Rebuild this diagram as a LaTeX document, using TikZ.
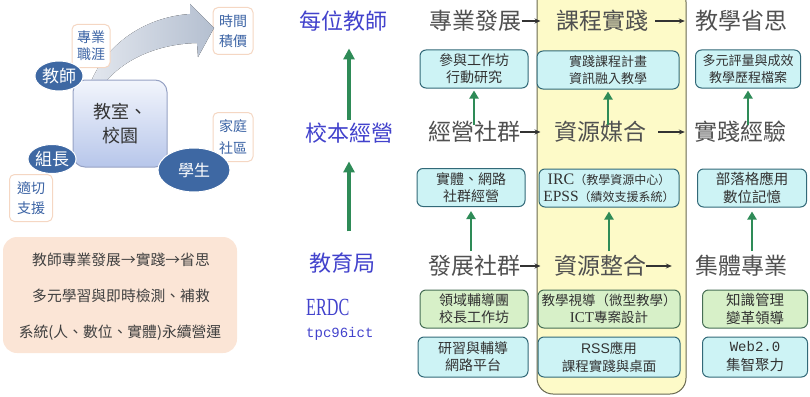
\documentclass[tikz,border=0pt]{standalone}
\usepackage{fontspec}
\setmainfont{Liberation Serif}
\setmonofont{Liberation Mono}
\newfontfamily\cjk{Noto Sans CJK TC}
\newfontfamily\lsans{Liberation Sans}
\usetikzlibrary{arrows.meta,shapes.geometric}
\definecolor{lblue}{RGB}{66,66,204}
\definecolor{hgray}{RGB}{80,80,80}
\definecolor{ylw}{RGB}{253,250,200}
\definecolor{ylwb}{RGB}{105,105,80}
\definecolor{cyanf}{RGB}{205,243,245}
\definecolor{cyanb}{RGB}{50,105,120}
\definecolor{grnf}{RGB}{215,240,200}
\definecolor{grnb}{RGB}{70,110,85}
\definecolor{arrgreen}{RGB}{46,139,87}
\definecolor{ellf}{RGB}{62,104,163}
\definecolor{tagb}{RGB}{245,215,195}
\definecolor{tagt}{RGB}{60,100,165}
\definecolor{peach}{RGB}{251,229,214}
\definecolor{boxtxt}{RGB}{50,50,50}
\definecolor{arrowL}{RGB}{228,232,239}
\definecolor{arrowR}{RGB}{180,191,208}
\definecolor{roomT}{RGB}{242,245,252}
\definecolor{roomB}{RGB}{183,198,234}
\definecolor{roomD}{RGB}{150,162,196}
\tikzset{
 hdr/.style={font=\cjk\fontsize{23}{25}\selectfont, text=hgray, inner sep=0pt},
 blbl/.style={font=\cjk\fontsize{22}{24}\selectfont, text=lblue, inner sep=0pt},
 gridbox/.style={rounded corners=6pt, line width=1pt, align=center, inner sep=0pt, minimum height=38pt, text=boxtxt, font=\cjk\fontsize{14}{17}\selectfont},
 cbox/.style={gridbox, draw=cyanb, fill=cyanf},
 gbox/.style={gridbox, draw=grnb, fill=grnf},
 harr/.style={draw=black!80, line width=1.1pt, -{Stealth[length=6pt,width=5pt]}},
 grar/.style={draw=arrgreen, line width=2.5pt, -{Triangle[length=8pt,width=9pt]}},
 gbig/.style={draw=arrgreen, line width=3.5pt, -{Triangle[length=11pt,width=11pt]}},
 tagbox/.style={draw=tagb, fill=white, rounded corners=5pt, line width=1pt, text=tagt, font=\cjk\fontsize{14}{20}\selectfont, align=center, inner sep=0pt},
 ell/.style={ellipse, fill=ellf, draw=white, line width=1pt, text=white, inner sep=0pt, font=\cjk\fontsize{17}{19}\selectfont},
 ptext/.style={font=\cjk\fontsize{14.8}{16}\selectfont, text=black!75, inner sep=0pt},
}
\begin{document}
\begin{tikzpicture}[x=1pt,y=-1pt]
\useasboundingbox (0,0) rectangle (810,396);
% ---------- left part ----------
\node[tagbox, minimum width=40pt, minimum height=47pt] (tj) at (233,31) {時間\\積價};
\node[tagbox, minimum width=40pt, minimum height=49pt, font=\cjk\fontsize{14}{22}\selectfont] (jt) at (233,137) {家庭\\社區};
\node[tagbox, minimum width=43pt, minimum height=47pt] (sq) at (31,198) {適切\\支援};
\fill[left color=arrowL, right color=arrowR] (86,96) .. controls (100,45) and (145,17) .. (190,14) -- (190,4) -- (214,28) -- (198,57) -- (197,43) .. controls (155,44) and (112,62) .. (94,100) -- cycle;
\node[tagbox, minimum width=38pt, minimum height=43pt, font=\cjk\fontsize{14}{17}\selectfont] (zy) at (91,46) {專業\\職涯};
\node[rounded corners=12pt, minimum width=94pt, minimum height=87pt, top color=roomT, bottom color=roomB, draw=roomD, line width=1pt, align=center, text=black!80, font=\cjk\fontsize{18}{24}\selectfont, inner sep=0pt] (room) at (120,123.5) {教室、\\校園};
\node[ell, minimum width=46pt, minimum height=30pt] (js) at (59,76) {教師};
\node[ell, minimum width=46pt, minimum height=29pt] (zz) at (52,159) {組長};
\node[ell, minimum width=72pt, minimum height=44pt, font=\cjk\fontsize{16}{18}\selectfont] (xs) at (194,170) {學生};
\node[fill=peach, rounded corners=14pt, minimum width=234pt, minimum height=116pt, inner sep=0pt] (pbox) at (120,295) {};
\node[ptext] (p1) at (121,260) {教師專業發展→實踐→省思};
\node[ptext] (p2) at (121,295.5) {多元學習與即時檢測、補救};
\node[ptext] (p3) at (120,332.5) {系統(人、數位、實體)永續營運};
% ---------- middle labels ----------
\node[blbl] (L1) at (343,21) {每位教師};
\node[blbl] (L2) at (349,133) {校本經營};
\node[blbl] (L3) at (342,263) {教育局};
\node[anchor=west, inner sep=0pt, text=lblue, font=\fontsize{17}{19}\selectfont] (erdc) at (306,307) {\scalebox{0.95}[1.45]{ERDC}};
\node[anchor=west, inner sep=0pt, text=lblue, font=\ttfamily\fontsize{14}{16}\selectfont] (tpc) at (306,334) {tpc96ict};
\draw[gbig, shorten <=3pt, shorten >=17pt] (L2.north) -- (L2.north |- L1.south);
\draw[gbig, shorten <=21pt, shorten >=18pt] (L2.south |- L3.north) -- (L2.south);
% ---------- grid ----------
\node[fill=ylw, draw=ylwb, line width=1pt, rounded corners=16pt, minimum width=149pt, minimum height=408pt, inner sep=0pt] (col) at (611.5,190) {};
% headers
\node[hdr] (h11) at (475.5,21) {專業發展};
\node[hdr] (h12) at (602,21) {課程實踐};
\node[hdr] (h13) at (741,21) {教學省思};
\node[hdr] (h21) at (474,132) {經營社群};
\node[hdr] (h22) at (600,132) {資源媒合};
\node[hdr] (h23) at (740,132) {實踐經驗};
\node[hdr] (h31) at (474,266) {發展社群};
\node[hdr] (h32) at (600,266) {資源整合};
\node[hdr] (h33) at (741,266) {集體專業};
\draw[harr] (h11.east) -- ([xshift=4pt]h11.east -| col.west);
\draw[harr] ([xshift=7pt]h12.east) -- ([xshift=-10pt]h13.west);
\draw[harr] (h21.east) -- ([xshift=4pt]h21.east -| col.west);
\draw[harr] ([xshift=12pt]h22.east) -- ([xshift=-9pt]h23.west);
\draw[harr] (h31.east) -- ([xshift=4pt]h31.east -| col.west);
\draw[harr] (h32.east) -- ([xshift=-23pt]h33.west);
% row 1 boxes
\node[cbox, minimum width=108pt] (b11) at (474,69) {參與工作坊\\行動研究};
\node[cbox, minimum width=142pt, font=\cjk\fontsize{13}{17}\selectfont] (b12) at (608,70) {實踐課程計畫\\資訊融入教學};
\node[cbox, minimum width=105pt, font=\cjk\fontsize{13}{17}\selectfont] (b13) at (748,69) {多元評量與成效\\教學歷程檔案};
% row 2 boxes
\node[cbox, minimum width=108pt] (b21) at (471,187.5) {實體、網路\\社群經營};
\node[cbox, minimum width=140pt, font=\cjk\fontsize{12}{17}\selectfont] (b22) at (609,188) {{\rmfamily\fontsize{16}{17}\selectfont IRC}（教學資源中心）\\{\rmfamily\fontsize{15.5}{17}\selectfont EPSS}（績效支援系統）};
\node[cbox, minimum width=109pt, font=\cjk\fontsize{14.5}{18}\selectfont] (b23) at (752,188) {部落格應用\\數位記憶};
% row 3 boxes
\node[gbox, minimum width=108pt] (b31) at (474,309) {領域輔導團\\校長工作坊};
\node[gbox, minimum width=142pt, font=\cjk\fontsize{13.5}{17}\selectfont] (b32) at (609,309) {教學視導（微型教學）\\{\rmfamily\fontsize{15}{17}\selectfont ICT}專案設計};
\node[gbox, minimum width=105pt, font=\cjk\fontsize{14.5}{18}\selectfont] (b33) at (755,309) {知識管理\\變革領導};
% row 4 boxes
\node[cbox, minimum width=110pt, minimum height=40pt] (b41) at (473,357) {研習與輔導\\網路平台};
\node[cbox, minimum width=142pt, minimum height=40pt, font=\cjk\fontsize{13.5}{18}\selectfont] (b42) at (609,357) {{\lsans\fontsize{14}{18}\selectfont RSS}應用\\課程實踐與桌面};
\node[cbox, minimum width=105pt, minimum height=40pt, font=\cjk\fontsize{14.5}{19}\selectfont] (b43) at (755,357) {{\ttfamily\fontsize{14}{19}\selectfont Web2.0}\\集智聚力};
% green arrows in grid
\draw[grar] ([yshift=-4pt]b11.south |- h21.north) -- ([yshift=-2pt]b11.south);
\draw[grar] ([yshift=-4pt]b12.south |- h22.north) -- ([yshift=-2pt]b12.south);
\draw[grar] ([yshift=-4pt]b13.south |- h23.north) -- ([yshift=-2pt]b13.south);
\draw[grar] ([yshift=4pt]b21.south |- h31.north) -- ([yshift=-4pt]b21.south);
\draw[grar] ([yshift=4pt]b22.south |- h32.north) -- ([yshift=-4pt]b22.south);
\draw[grar] ([yshift=4pt]b23.south |- h33.north) -- ([yshift=-4pt]b23.south);
\end{tikzpicture}
\end{document}
